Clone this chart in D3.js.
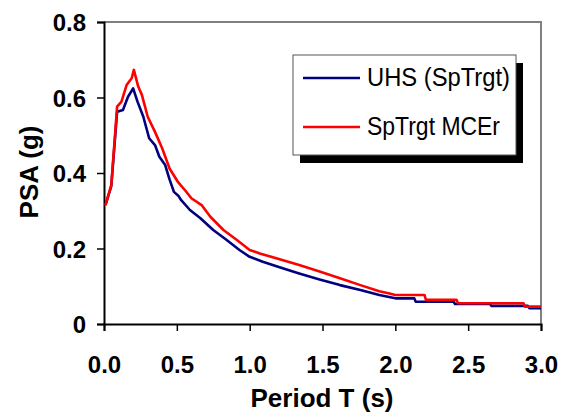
<!DOCTYPE html>
<html>
<head>
<meta charset="utf-8">
<script src="https://cdn.jsdelivr.net/npm/d3@7"></script>
<style>
  body { margin: 0; background: #fff; }
  text { font-family: "Liberation Sans", Arial, sans-serif; }
</style>
</head>
<body>
<div id="chart"></div>
<script>
// UHS (SpTrgt) - blue
const uhsT   = [0.01, 0.05, 0.09, 0.13, 0.165, 0.20, 0.23, 0.27, 0.31, 0.35, 0.38, 0.42, 0.45, 0.48, 0.51, 0.53, 0.59, 0.66, 0.75, 0.84, 0.93, 1.0, 1.09, 1.2, 1.34, 1.48, 1.62, 1.76, 1.89, 2.0, 2.13, 2.14, 2.40, 2.41, 2.65, 2.66, 2.91, 2.92, 3.0];
const uhsPSA = [0.315, 0.365, 0.562, 0.567, 0.602, 0.624, 0.589, 0.549, 0.492, 0.474, 0.443, 0.421, 0.383, 0.350, 0.340, 0.328, 0.302, 0.281, 0.249, 0.223, 0.196, 0.178, 0.165, 0.151, 0.134, 0.118, 0.103, 0.090, 0.077, 0.068, 0.068, 0.059, 0.059, 0.053, 0.053, 0.048, 0.048, 0.042, 0.042];

// SpTrgt MCEr - red
const mcerT   = [0.01, 0.05, 0.09, 0.12, 0.155, 0.19, 0.205, 0.235, 0.26, 0.30, 0.35, 0.40, 0.45, 0.51, 0.555, 0.60, 0.67, 0.73, 0.82, 0.91, 1.0, 1.07, 1.2, 1.34, 1.48, 1.62, 1.76, 1.89, 1.96, 2.0, 2.2, 2.21, 2.42, 2.43, 2.88, 2.89, 3.0];
const mcerPSA = [0.315, 0.368, 0.576, 0.589, 0.633, 0.651, 0.673, 0.629, 0.607, 0.549, 0.509, 0.465, 0.412, 0.375, 0.355, 0.333, 0.315, 0.284, 0.249, 0.223, 0.196, 0.187, 0.172, 0.156, 0.139, 0.121, 0.103, 0.087, 0.081, 0.077, 0.077, 0.064, 0.064, 0.055, 0.055, 0.046, 0.046];

const xTicks = [0, 0.5, 1.0, 1.5, 2.0, 2.5, 3.0];
const yTicks = [0, 0.2, 0.4, 0.6, 0.8];
const seriesNames = ["UHS (SpTrgt)", "SpTrgt MCEr"];
const seriesColors = ["#000080", "#ff0000"];

const W = 566, H = 417;
const margin = { top: 22, right: 25, bottom: 93, left: 104 };

const svg = d3.select("#chart").append("svg")
    .attr("width", W)
    .attr("height", H);

const x = d3.scaleLinear().domain([0, 3]).range([margin.left, W - margin.right]);
const y = d3.scaleLinear().domain([0, 0.8]).range([H - margin.bottom, margin.top]);

// top and right frame lines (gray)
svg.append("path")
    .attr("d", `M${x(0)},${y(0.8)}H${x(3)}V${y(0)}`)
    .attr("fill", "none")
    .attr("stroke", "#808080")
    .attr("stroke-width", 2);

// axes
const xAxis = svg.append("g")
    .attr("transform", "translate(0," + y(0) + ")")
    .call(d3.axisBottom(x).tickValues(xTicks).tickSize(7).tickFormat(d3.format(".1f")));
xAxis.selectAll("text")
    .attr("dy", 0).attr("y", 49)
    .style("font-size", "24px").style("font-weight", "bold").attr("fill", "#000");

const yAxis = svg.append("g")
    .attr("transform", "translate(" + x(0) + ",0)")
    .call(d3.axisLeft(y).tickValues(yTicks).tickSize(7)
        .tickFormat(d => d === 0 ? "0" : d3.format(".1f")(d)));
yAxis.selectAll("text")
    .attr("x", -18).attr("dy", "0.36em")
    .style("font-size", "24px").style("font-weight", "bold").attr("fill", "#000");

svg.selectAll(".domain").attr("stroke", "#000").attr("stroke-width", 2);
svg.selectAll(".tick line").attr("stroke", "#000").attr("stroke-width", 1.5);

// lines
const line = d3.line()
    .x(d => x(d[0]))
    .y(d => y(d[1]));

const uhsData = uhsT.map((t, i) => [t, uhsPSA[i]]);
const mcerData = mcerT.map((t, i) => [t, mcerPSA[i]]);

[uhsData, mcerData].forEach((data, i) => {
    svg.append("path")
        .datum(data)
        .attr("fill", "none")
        .attr("stroke", seriesColors[i])
        .attr("stroke-width", 2.6)
        .attr("stroke-linejoin", "round")
        .attr("d", line);
});

// axis titles
svg.append("text")
    .attr("x", 322).attr("y", 407)
    .attr("text-anchor", "middle")
    .style("font-size", "26px").style("font-weight", "bold")
    .text("Period T (s)");

svg.append("text")
    .attr("transform", "translate(38,172) rotate(-90)")
    .attr("text-anchor", "middle")
    .style("font-size", "26px").style("font-weight", "bold")
    .text("PSA (g)");

// legend
const lg = svg.append("g").attr("transform", "translate(293,55)");
lg.append("rect")
    .attr("x", 7).attr("y", 8).attr("width", 223).attr("height", 100)
    .attr("fill", "#000");
lg.append("rect")
    .attr("x", 0).attr("y", 0).attr("width", 223).attr("height", 100)
    .attr("fill", "#fff").attr("stroke", "#555").attr("stroke-width", 1);

const legendTextLen = [143, 133];
seriesNames.forEach((name, i) => {
    const yy = 23 + i * 49;
    lg.append("line")
        .attr("x1", 10).attr("x2", 67)
        .attr("y1", yy).attr("y2", yy)
        .attr("stroke", seriesColors[i]).attr("stroke-width", 2.6);
    lg.append("text")
        .attr("x", 74).attr("y", yy + 8)
        .attr("textLength", legendTextLen[i])
        .attr("lengthAdjust", "spacingAndGlyphs")
        .style("font-size", "25px")
        .text(name);
});
</script>
</body>
</html>
